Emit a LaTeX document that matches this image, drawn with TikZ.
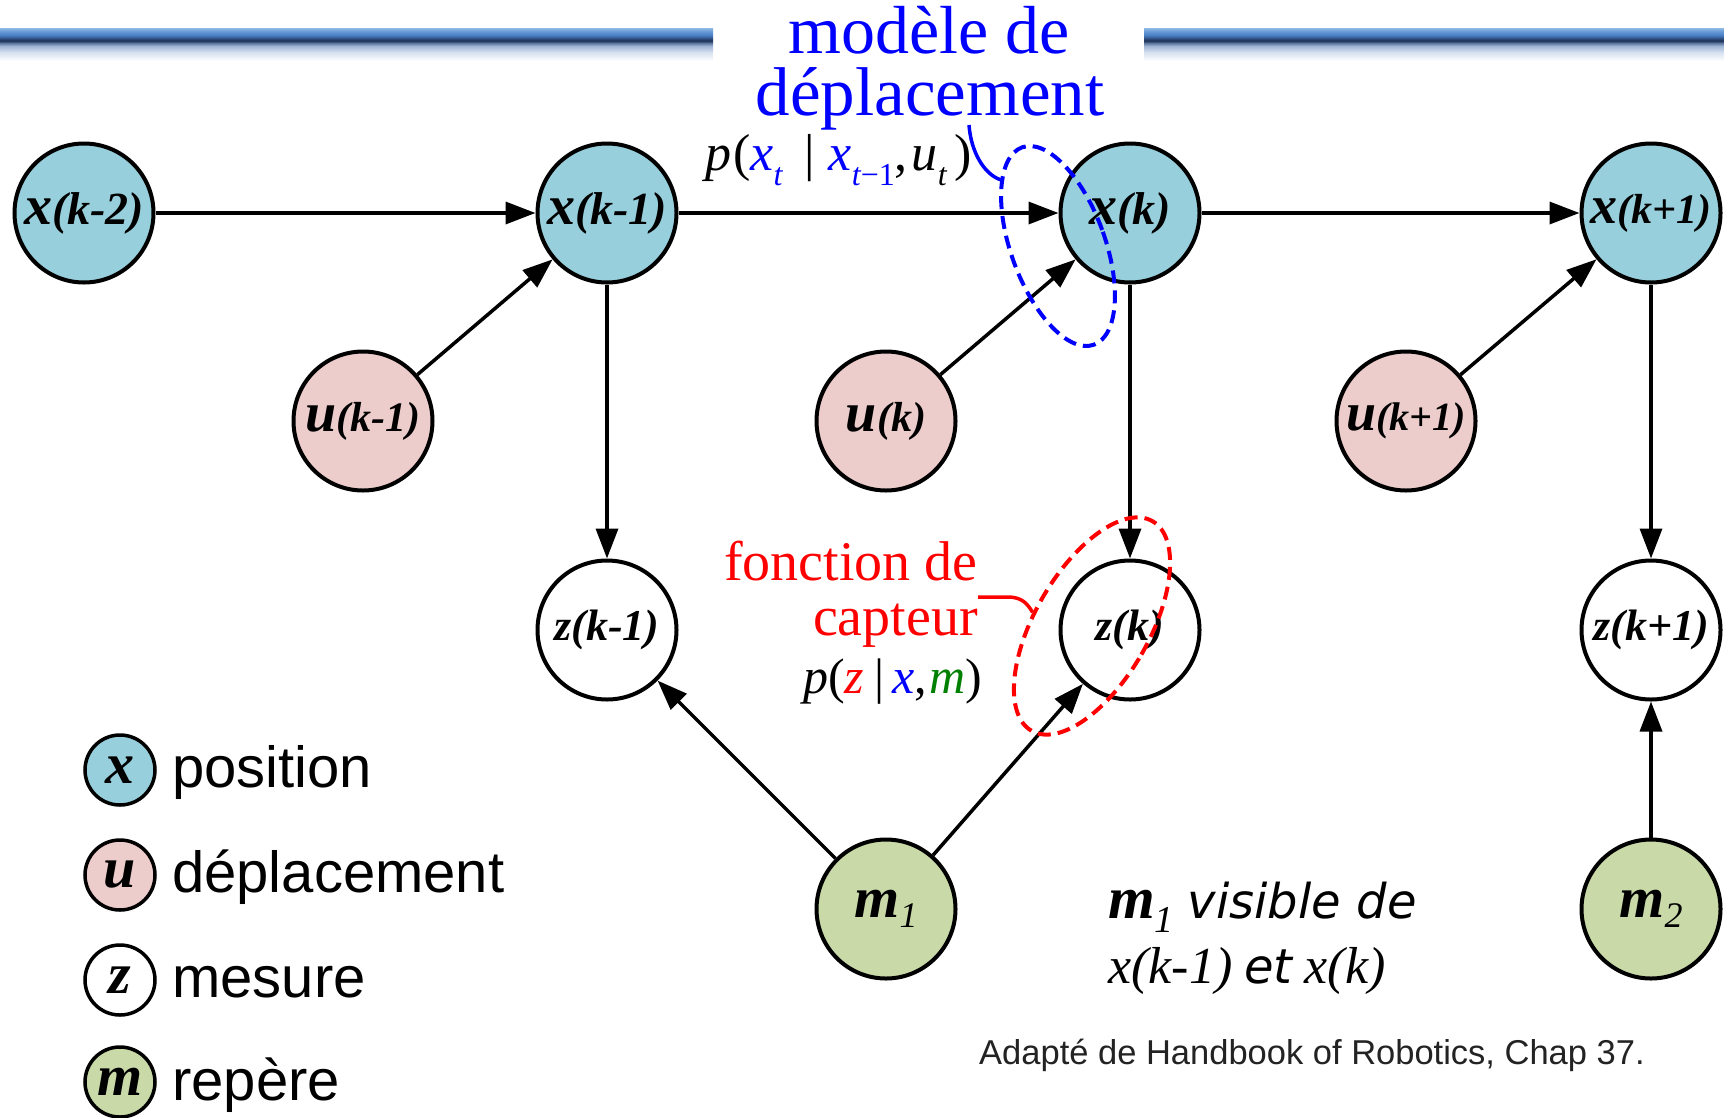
\documentclass[tikz,border=0pt]{standalone}
\usepackage{fontspec}
\setmainfont{Liberation Serif}
\newfontfamily\arialf{Liberation Sans}
\newfontfamily\verdf{DejaVu Sans}
\usetikzlibrary{arrows.meta,shapes.geometric}

\newcommand{\setsz}[1]{\fontsize{#1pt}{#1pt}\selectfont}
% lowered, smaller text: drop, size, text
\newcommand{\lowsub}[3]{\raisebox{-#1pt}{\setsz{#2}#3}}

\definecolor{posfill}{RGB}{151,207,220}
\definecolor{depfill}{RGB}{237,205,203}
\definecolor{repfill}{RGB}{201,218,168}
\definecolor{mgreen}{RGB}{0,128,0}
\definecolor{pureblue}{RGB}{0,0,255}
\definecolor{purered}{RGB}{255,0,0}
\definecolor{credit}{RGB}{35,35,35}

\definecolor{hbA}{RGB}{215,225,240}
\definecolor{hbB}{RGB}{160,182,214}
\definecolor{hbC}{RGB}{90,115,155}
\definecolor{hbD}{RGB}{30,50,85}
\definecolor{hbE}{RGB}{45,75,125}
\definecolor{hbF}{RGB}{70,125,195}
\definecolor{hbG}{RGB}{105,155,215}
\definecolor{hbH}{RGB}{145,185,230}

\pgfdeclareverticalshading{headbar}{100bp}{%
  color(0bp)=(white); color(25bp)=(white); color(37.9bp)=(hbA);
  color(47.6bp)=(hbB); color(52.4bp)=(hbC); color(55.6bp)=(hbD);
  color(58.9bp)=(hbE); color(63.7bp)=(hbF); color(70.2bp)=(hbG);
  color(75bp)=(hbH); color(100bp)=(hbH)}

\begin{document}
\begin{tikzpicture}[x=1pt,y=1pt,
  gnode/.style={circle, draw=black, line width=4pt, minimum size=139pt,
    inner sep=0pt, font=\bfseries\itshape},
  posn/.style={gnode, fill=posfill},
  depn/.style={gnode, fill=depfill},
  mesn/.style={gnode, fill=white},
  repn/.style={gnode, fill=repfill},
  edge/.style={line width=3.5pt, -{Triangle[length=30pt,width=22pt]}},
  legn/.style={circle, draw=black, line width=3.5pt, minimum size=70pt,
    inner sep=0pt, font=\bfseries\itshape\setsz{58}},
  legtext/.style={anchor=base west, inner sep=0pt, font=\arialf\setsz{58}},
  plain/.style={inner sep=0pt},
  bluedash/.style={draw=pureblue, line width=4pt, dash pattern=on 13pt off 7pt},
  reddash/.style={draw=purered, line width=4pt, dash pattern=on 13pt off 7pt}]

\useasboundingbox (0,0) rectangle (1724,-1117);
\fill[white] (0,0) rectangle (1724,-1117);

% header bars
\shade[shading=headbar] (0,-28) rectangle (713,-61);
\shade[shading=headbar] (1144,-28) rectangle (1724,-61);

% title
\node[plain, anchor=base, text=pureblue, font=\setsz{68}] (titleA) at (929,-53) {modèle de};
\node[plain, anchor=base, text=pureblue, font=\setsz{69}] (titleB) at (930,-115) {déplacement};

% state nodes
\node[posn] (xkm2) at (84,-213) {{\setsz{56}x}{\setsz{46}(k-2)}};
\node[posn] (xkm1) at (607,-213) {{\setsz{56}x}{\setsz{46}(k-1)}};
\node[posn] (xk)   at (1130,-213) {{\setsz{56}x}{\setsz{46}(k)}};
\node[posn] (xkp1) at (1651,-213) {{\setsz{54}x}{\setsz{42}(k+1)}};

\node[depn] (ukm1) at (363,-421) {{\setsz{56}u}{\setsz{42}(k-1)}};
\node[depn] (uk)   at (886,-421) {{\setsz{56}u}{\setsz{42}(k)}};
\node[depn] (ukp1) at (1406,-421) {{\setsz{54}u}{\setsz{40}(k+1)}};

\node[mesn] (zkm1) at (607,-630) {\setsz{44}z(k-1)};
\node[mesn] (zk)   at (1130,-630) {\setsz{44}z(k)};
\node[mesn] (zkp1) at (1651,-630) {\setsz{44}z(k+1)};

\node[repn] (m1) at (886,-909) {{\setsz{58}m}\lowsub{10}{36}{\mdseries\itshape 1}};
\node[repn] (m2) at (1651,-909) {{\setsz{58}m}\lowsub{10}{36}{\mdseries\itshape 2}};

% dependencies
\draw[edge] (xkm2) -- (xkm1);
\draw[edge] (xkm1) -- (xk);
\draw[edge] (xk) -- (xkp1);
\draw[edge] (ukm1) -- (xkm1);
\draw[edge] (uk) -- (xk);
\draw[edge] (ukp1) -- (xkp1);
\draw[edge] (xkm1) -- (zkm1);
\draw[edge] (xk) -- (zk);
\draw[edge] (xkp1) -- (zkp1);
\draw[edge] (m1) -- (zkm1);
\draw[edge] (m1) -- (zk);
\draw[edge] (m2) -- (zkp1);

% motion model formula
\node[plain, anchor=base west, font=\setsz{52}] (pmove) at (705,-170)
  {{\itshape p}\hspace{2pt}(\textcolor{pureblue}{\itshape x\lowsub{15}{32}{t}}\hspace{22pt}|\hspace{14pt}\textcolor{pureblue}{\itshape x\lowsub{15}{32}{t\upshape −1}},\hspace{4pt}{\itshape u\lowsub{15}{32}{t}}\hspace{8pt})};

% sensor model labels
\node[plain, anchor=base east, text=purered, font=\setsz{56}] (fonc) at (978,-580) {fonction de};
\node[plain, anchor=base east, text=purered, font=\setsz{56}] (capt) at (978,-635) {capteur};
\node[plain, anchor=base west, font=\setsz{50}] (psens) at (803,-693)
  {{\itshape p}(\textcolor{purered}{\itshape z}\hspace{10pt}|\hspace{8pt}\textcolor{pureblue}{\itshape x},\hspace{2pt}\textcolor{mgreen}{\itshape m})};

% highlighted regions
\node[bluedash, ellipse, minimum width=94pt, minimum height=210pt, inner sep=0pt, rotate=20] (moell) at (1058,-246) {};
\node[reddash, ellipse, minimum width=114pt, minimum height=242pt, inner sep=0pt, rotate=-30] (capell) at (1092,-626) {};

\coordinate (motip) at (969,-125);
\coordinate (captip) at (978,-597);
\draw[pureblue, line width=3.5pt] (motip) .. controls (971,-152) and (984,-174) .. (moell.111);
\draw[purered, line width=3.5pt] (captip) -- (1010,-597) .. controls (1022,-598) and (1027,-603) .. (capell.197);

% visibility note
\node[plain, anchor=base west] (noteA) at (1108,-918)
  {{\bfseries\itshape\setsz{60}m}\lowsub{14}{38}{\itshape 1}\hspace{14pt}{\verdf\itshape\setsz{48}visible de}};
\node[plain, anchor=base west] (noteB) at (1108,-983)
  {{\itshape\setsz{52}x(k-1)}\hspace{12pt}{\verdf\itshape\setsz{48}et}\hspace{12pt}{\itshape\setsz{52}x(k)}};

% legend
\node[legn, fill=posfill] (lx) at (120,-770) {x};
\node[legn, fill=depfill] (lu) at (120,-875) {u};
\node[legn, fill=white]   (lz) at (120,-980) {z};
\node[legn, fill=repfill] (lm) at (120,-1082) {m};
\node[legtext] (tx) at (172,-787) {position};
\node[legtext] (tu) at (172,-892) {déplacement};
\node[legtext] (tz) at (172,-997) {mesure};
\node[legtext] (tm) at (172,-1100) {repère};

% source
\node[plain, anchor=base west, text=credit, font=\arialf\setsz{34.5}] (src) at (979,-1064)
  {Adapté de Handbook of Robotics, Chap 37.};
\end{tikzpicture}
\end{document}
